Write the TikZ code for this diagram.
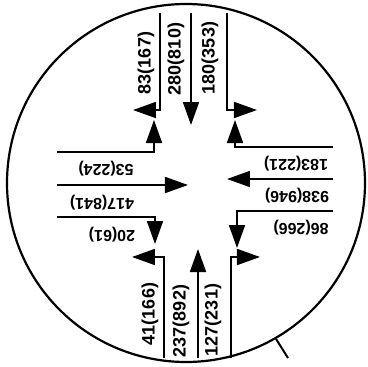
\documentclass[tikz,border=0pt]{standalone}
\usepackage{fontspec}
\setmainfont{Liberation Sans}
\usetikzlibrary{arrows.meta}

\begin{document}
\begin{tikzpicture}[x=1pt, y=-1pt, line width=1.8pt]
		\tikzset{
		    lane/.style= {-{Triangle[length=23pt, width=16pt]}},
		    vcount/.style= {rotate=90, inner sep=0pt, font=\fontsize{18}{20}\selectfont\bfseries},
		    hcount/.style= {rotate=180, inner sep=0pt, font=\fontsize{16}{18}\selectfont\bfseries},
		    ring/.style= {draw, circle, inner sep=0pt, minimum size=358pt, line width=2.2pt},
		}
		\useasboundingbox (0,0) rectangle (368,367);
		
		\node[ring] (rim) at (186,183) {};
		\coordinate (tick) at (288,358);
		
		% north arm
		\coordinate (n1) at (160,13);  \coordinate (n1b) at (160,110); \coordinate (n1t) at (133,110);
		\coordinate (n2) at (191,13);  \coordinate (n2t) at (191,125);
		\coordinate (n3) at (227,13);  \coordinate (n3b) at (227,110); \coordinate (n3t) at (257,110);
		% west arm
		\coordinate (w1) at (57,152);  \coordinate (w1b) at (154,152); \coordinate (w1t) at (154,120);
		\coordinate (w2) at (57,185);  \coordinate (w2t) at (188,185);
		\coordinate (w3) at (57,217);  \coordinate (w3b) at (155,217); \coordinate (w3t) at (155,244);
		% east arm
		\coordinate (e1) at (333,147); \coordinate (e1b) at (235,147); \coordinate (e1t) at (235,120);
		\coordinate (e2) at (333,179); \coordinate (e2t) at (227,179);
		\coordinate (e3) at (333,211); \coordinate (e3b) at (237,211); \coordinate (e3t) at (237,248);
		% south arm
		\coordinate (s1) at (164,358); \coordinate (s1b) at (164,257); \coordinate (s1t) at (132,257);
		\coordinate (s2) at (198,358); \coordinate (s2t) at (198,249);
		\coordinate (s3) at (231,358); \coordinate (s3b) at (231,257); \coordinate (s3t) at (260,257);
		
		\node[vcount] (nr) at (146,63) {83(167)};
		\node[vcount] (nt) at (176,59) {280(810)};
		\node[vcount] (nl) at (210,58) {180(353)};
		\node[vcount] (sl) at (150,314) {41(166)};
		\node[vcount] (st) at (181,321) {237(892)};
		\node[vcount] (sr) at (213,320) {127(231)};
		\node[hcount] (wl) at (106,169) {53(224)};
		\node[hcount] (wt) at (102,203) {417(841)};
		\node[hcount] (wr) at (112,235) {20(61)};
		\node[hcount] (er) at (296,164) {183(221)};
		\node[hcount] (et) at (297,196) {938(946)};
		\node[hcount] (el) at (301,228) {86(266)};
		
		\draw[line width=2pt] (rim.-60) -- (tick);
		\draw[lane] (n1) -- (n1b) -- (n1t);
		\draw[lane] (n2) -- (n2t);
		\draw[lane] (n3) -- (n3b) -- (n3t);
		\draw[lane] (w1) -- (w1b) -- (w1t);
		\draw[lane] (w2) -- (w2t);
		\draw[lane] (w3) -- (w3b) -- (w3t);
		\draw[lane] (e1) -- (e1b) -- (e1t);
		\draw[lane] (e2) -- (e2t);
		\draw[lane] (e3) -- (e3b) -- (e3t);
		\draw[lane] (s1) -- (s1b) -- (s1t);
		\draw[lane] (s2) -- (s2t);
		\draw[lane] (s3) -- (s3b) -- (s3t);
	\end{tikzpicture}
\end{document}
